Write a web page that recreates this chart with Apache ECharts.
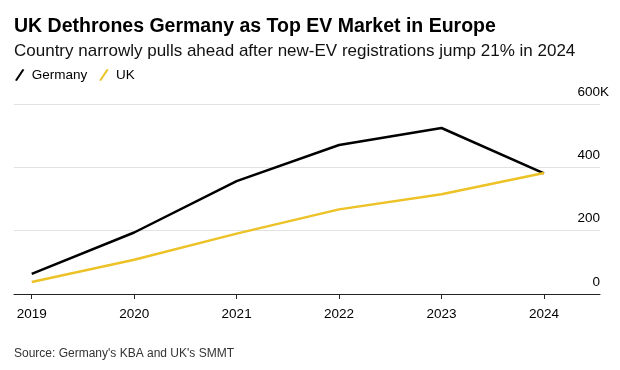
<!DOCTYPE html>
<html>
<head>
<meta charset="utf-8">
<script src="https://cdn.jsdelivr.net/npm/echarts@6/dist/echarts.min.js"></script>
<style>
html,body{margin:0;padding:0;background:#fff;}
#chart{width:620px;height:370px;}
</style>
</head>
<body>
<div id="chart"></div>
<script>
// Data (thousands of new EV registrations)
const years = [2019, 2020, 2021, 2022, 2023, 2024];
const germany = [63.3, 194.2, 356.4, 470.6, 524.2, 380.6];
const uk = [37.9, 108.2, 190.7, 267.2, 314.7, 382.0];
const yTicks = [0, 200, 400, 600];

const FONT = '"Liberation Sans", Arial, Helvetica, sans-serif';
const chart = echarts.init(document.getElementById('chart'), null, {renderer: 'canvas'});

chart.setOption({
  backgroundColor: '#ffffff',
  animation: false,
  textStyle: {fontFamily: FONT},
  title: [
    {text: 'UK Dethrones Germany as Top EV Market in Europe', left: 9, top: 12,
     textStyle: {fontFamily: FONT, fontSize: 19.5, fontWeight: 'bold', color: '#000'}},
    {text: 'Country narrowly pulls ahead after new-EV registrations jump 21% in 2024', left: 9, top: 38,
     textStyle: {fontFamily: FONT, fontSize: 17, fontWeight: 'normal', color: '#111'}},
    {text: "Source: Germany's KBA and UK's SMMT", left: 9, top: 343,
     textStyle: {fontFamily: FONT, fontSize: 12, fontWeight: 'normal', color: '#333'}}
  ],
  legend: {
    left: 10, top: 63,
    itemWidth: 10, itemHeight: 12, itemGap: 12,
    icon: 'path://M0,12 L8,0 L10,0.8 L2,12.8 Z',
    textStyle: {fontFamily: FONT, fontSize: 13.5, color: '#000', padding: [0, 0, 0, 2]},
    data: ['Germany', 'UK']
  },
  grid: {left: 14, right: 20, top: 104, bottom: 76, containLabel: false},
  xAxis: {
    type: 'value',
    min: 2018.827, max: 2024.547,
    axisLine: {show: true, lineStyle: {color: '#222', width: 1}},
    axisTick: {show: true, customValues: years, length: 5, lineStyle: {color: '#222'}},
    axisLabel: {customValues: years, margin: 13, fontFamily: FONT, fontSize: 13.5, color: '#000',
                formatter: v => String(Math.round(v))},
    splitLine: {show: false}
  },
  yAxis: {
    type: 'value',
    position: 'right',
    min: 0, max: 600, interval: 200,
    axisLine: {show: false},
    axisTick: {show: false},
    splitLine: {show: true, lineStyle: {color: '#e2e2e2', width: 1}},
    axisLabel: {
      inside: true, margin: -9, align: 'right', verticalAlign: 'bottom',
      fontFamily: FONT, fontSize: 13.5, color: '#000', padding: [0, 0, 5, 0],
      formatter: v => '{n|' + v + '}{k|' + (v === 600 ? 'K' : ' ') + '}',
      rich: {
        n: {fontFamily: FONT, fontSize: 13.5, color: '#000'},
        k: {fontFamily: FONT, fontSize: 13.5, color: '#000', width: 9}
      }
    }
  },
  series: [
    {name: 'Germany', type: 'line', data: years.map((y, i) => [y, germany[i]]),
     color: '#000', symbol: 'none', lineStyle: {color: '#000', width: 2.5}},
    {name: 'UK', type: 'line', data: years.map((y, i) => [y, uk[i]]),
     color: '#ecc227', symbol: 'none', lineStyle: {color: '#ecc227', width: 2.5}}
  ]
});
</script>
</body>
</html>
